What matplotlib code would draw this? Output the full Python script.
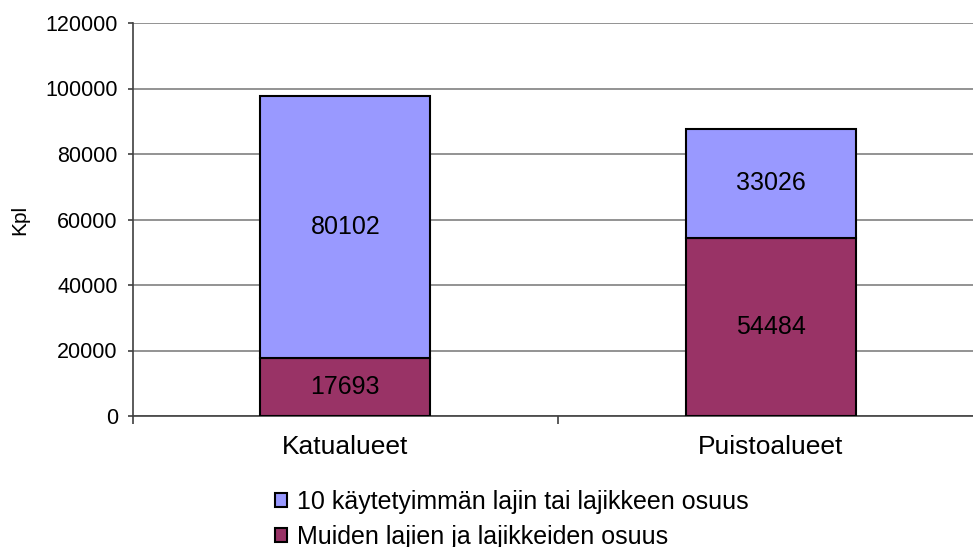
import matplotlib
matplotlib.use("Agg")
import matplotlib.pyplot as plt
import numpy as np

# data
categories = ["Katualueet", "Puistoalueet"]
muut = [17693, 54484]
top10 = [80102, 33026]
series_labels = ["10 käytetyimmän lajin tai lajikkeen osuus",
                 "Muiden lajien ja lajikkeiden osuus"]
yticks = [0, 20000, 40000, 60000, 80000, 100000, 120000]

plt.rcParams["font.family"] = ["Liberation Sans", "DejaVu Sans"]

W, H = 973, 547
fig = plt.figure(figsize=(W / 100, H / 100), dpi=100)
ax = fig.add_axes([132.5 / W, (H - 416) / H, (983.5 - 132.5) / W, (416 - 23) / H])

x = np.arange(len(categories))
width = 0.4
c_top, c_muut = "#9999FF", "#993366"
b1 = ax.bar(x, muut, width, color=c_muut, edgecolor="black", linewidth=1.5, zorder=3)
b2 = ax.bar(x, top10, width, bottom=muut, color=c_top, edgecolor="black", linewidth=1.5, zorder=3)

for i in range(len(categories)):
    ax.text(x[i], muut[i] / 2, f"{muut[i]}", ha="center", va="center", fontsize=18, zorder=4)
    ax.text(x[i], muut[i] + top10[i] / 2, f"{top10[i]}", ha="center", va="center", fontsize=18, zorder=4)

ax.set_xlim(-0.5, 1.5)
ax.set_ylim(0, 120000)
ax.set_yticks(yticks)
ax.set_yticklabels([str(v) for v in yticks], fontsize=15.5)
ax.yaxis.grid(True, color="#808080", linewidth=1.2, zorder=0)
ax.set_axisbelow(True)

ax.set_xticks(x)
ax.set_xticklabels(categories, fontsize=19)
ax.tick_params(axis="x", which="major", length=0, pad=14)
ax.set_xticks([-0.5, 0.5, 1.5], minor=True)
ax.tick_params(axis="x", which="minor", length=6, width=1.2, color="#404040")
ax.tick_params(axis="y", length=3.6, width=1.2, color="#404040", pad=7)

for s in ("top", "right"):
    ax.spines[s].set_visible(False)
for s in ("left", "bottom"):
    ax.spines[s].set_color("#404040")
    ax.spines[s].set_linewidth(1.2)

ax.set_ylabel("Kpl", fontsize=15)
ax.yaxis.set_label_coords(-103 / 851, 0.5)

fig.legend([b2, b1], series_labels, loc="upper left", bbox_to_anchor=(262 / W, 1 - 477 / H),
           frameon=False, fontsize=18, handlelength=0.5, handleheight=0.5,
           handletextpad=0.4, labelspacing=0.45, borderpad=0)

fig.savefig("out.png", dpi=100)
